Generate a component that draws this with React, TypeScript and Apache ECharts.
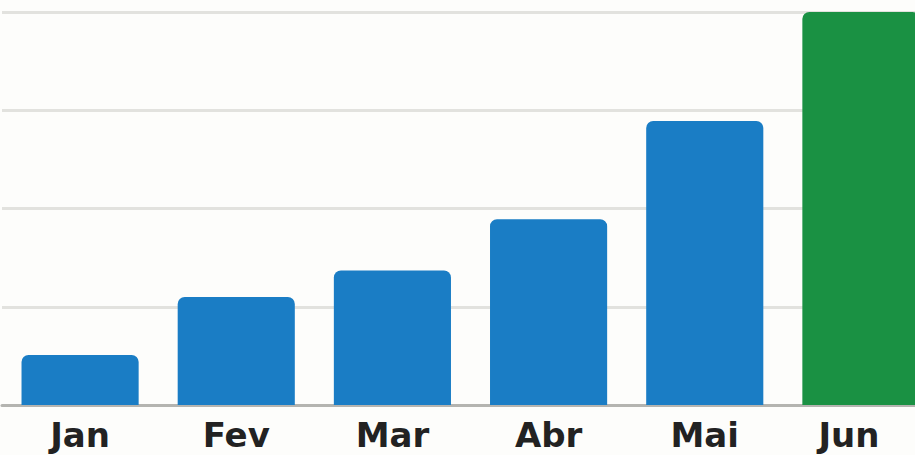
import React, { useEffect, useRef } from "react";
import * as echarts from "echarts";

const categories = ["Jan", "Fev", "Mar", "Abr", "Mai", "Jun"];
const values = [51, 110, 137, 189, 289, 400];
const highlightIndex = 5;

export default function App() {
  const ref = useRef<HTMLDivElement>(null);
  useEffect(() => {
    if (!ref.current) return;
    const chart = echarts.init(ref.current, undefined, { renderer: "svg" });
    chart.setOption({
      animation: false,
      backgroundColor: "#fdfdfb",
      grid: {
        left: 2,
        top: 12,
        width: 937,
        height: 393,
        containLabel: false,
        outerBoundsMode: "none",
      },
      xAxis: {
        type: "category",
        data: categories.map((c, i) =>
          i === highlightIndex
            ? { value: c, textStyle: { padding: [0, 24, 0, 0] } }
            : c
        ),
        axisLine: { show: true, lineStyle: { color: "#b4b4b0", width: 3 } },
        axisTick: { show: false },
        axisLabel: {
          color: "#222222",
          fontSize: 34,
          fontWeight: "bold",
          fontFamily: "DejaVu Sans",
          margin: 13,
        },
      },
      yAxis: {
        type: "value",
        min: 0,
        max: 400,
        interval: 100,
        axisLabel: { show: false },
        axisLine: { show: false },
        axisTick: { show: false },
        splitLine: { lineStyle: { color: "#e2e2de", width: 3 } },
      },
      series: [
        {
          type: "bar",
          barWidth: "75%",
          data: values.map((v, i) => ({
            value: v,
            itemStyle: {
              color: i === highlightIndex ? "#1a9143" : "#1a7dc5",
              borderRadius: [7, 7, 0, 0],
            },
          })),
        },
      ],
    });
    return () => chart.dispose();
  }, []);
  return (
    <div
      ref={ref}
      style={{ position: "fixed", left: 0, top: 0, width: 915, height: 455 }}
    />
  );
}
